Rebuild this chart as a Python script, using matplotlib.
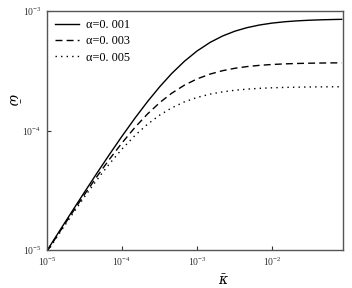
import matplotlib
matplotlib.use("Agg")
import matplotlib.pyplot as plt

kappa = [1e-5, 1.5e-5, 2.2e-5, 3.2e-5, 4.6e-5, 6.8e-5, 1e-4, 1.5e-4, 2.2e-4,
         3.2e-4, 4.6e-4, 6.8e-4, 1e-3, 1.5e-3, 2.2e-3, 3.2e-3, 4.6e-3, 6.8e-3,
         1e-2, 1.5e-2, 2.2e-2, 3.2e-2, 4.6e-2, 6.8e-2, 8.5e-2]

omega_a1 = [0.9885e-5, 1.474e-5, 2.145e-5, 3.085e-5, 4.366e-5, 6.302e-5, 8.958e-5,
            1.277e-4, 1.752e-4, 2.332e-4, 2.997e-4, 3.797e-4, 4.624e-4, 5.466e-4,
            6.183e-4, 6.778e-4, 7.245e-4, 7.634e-4, 7.919e-4, 8.134e-4, 8.276e-4,
            8.375e-4, 8.442e-4, 8.493e-4, 8.514e-4]
omega_a3 = [0.9737e-5, 1.4416e-5, 2.0765e-5, 2.9453e-5, 4.0913e-5, 5.7443e-5, 7.8723e-5,
            1.0673e-4, 1.3797e-4, 1.7159e-4, 2.0506e-4, 2.3962e-4, 2.7007e-4, 2.9679e-4,
            3.1673e-4, 3.3165e-4, 3.4245e-4, 3.5091e-4, 3.5680e-4, 3.6109e-4, 3.6388e-4,
            3.6577e-4, 3.6705e-4, 3.6800e-4, 3.6840e-4]
omega_a5 = [0.9588e-5, 1.4093e-5, 2.0102e-5, 2.8136e-5, 3.8416e-5, 5.2638e-5, 6.997e-5,
            9.125e-5, 1.1316e-4, 1.3483e-4, 1.5466e-4, 1.7354e-4, 1.8897e-4, 2.0167e-4,
            2.1069e-4, 2.1719e-4, 2.2177e-4, 2.2528e-4, 2.2769e-4, 2.2944e-4, 2.3056e-4,
            2.3132e-4, 2.3182e-4, 2.3220e-4, 2.3236e-4]

labels = ["α=0. 001", "α=0. 003", "α=0. 005"]

plt.rcParams['font.family'] = ['Liberation Serif', 'DejaVu Serif']
plt.rcParams['mathtext.fontset'] = 'dejavuserif'

fig = plt.figure(figsize=(3.52, 2.88), dpi=100)
ax = fig.add_axes([47/352, 1-250/288, 296/352, 239/288])

ax.plot(kappa, omega_a1, color='black', lw=1.0, ls='-', label=labels[0])
ax.plot(kappa, omega_a3, color='black', lw=1.0, ls=(0, (5, 3)), label=labels[1])
ax.plot(kappa, omega_a5, color='black', lw=1.0, ls=(0, (1, 3)), label=labels[2])

ax.set_xscale('log')
ax.set_yscale('log')
ax.set_xlim(1e-5, 0.0885)
ax.set_ylim(1e-5, 1e-3)
ax.minorticks_off()
ax.set_xticks([1e-5, 1e-4, 1e-3, 1e-2])
ax.set_yticks([1e-5, 1e-4, 1e-3])
ax.tick_params(direction='in', length=3, width=0.8, labelsize=7, colors='#333333', pad=4)
for s in ax.spines.values():
    s.set_color('#555555')
    s.set_linewidth(1.0)

ax.set_xlabel(r'$\bar{\kappa}$', fontsize=10)
ax.xaxis.set_label_coords(0.598, -0.10)
ax.set_ylabel(r'$\bar{\omega}$', fontsize=10, rotation=270, va='center', ha='center')
ax.yaxis.set_label_coords(-0.118, 0.63)

leg = ax.legend(loc='upper left', frameon=False, fontsize=8.8, handlelength=2.0,
                labelspacing=0.36, borderaxespad=0.45, borderpad=0.2,
                handletextpad=0.5)

fig.savefig('out.png', dpi=100)
